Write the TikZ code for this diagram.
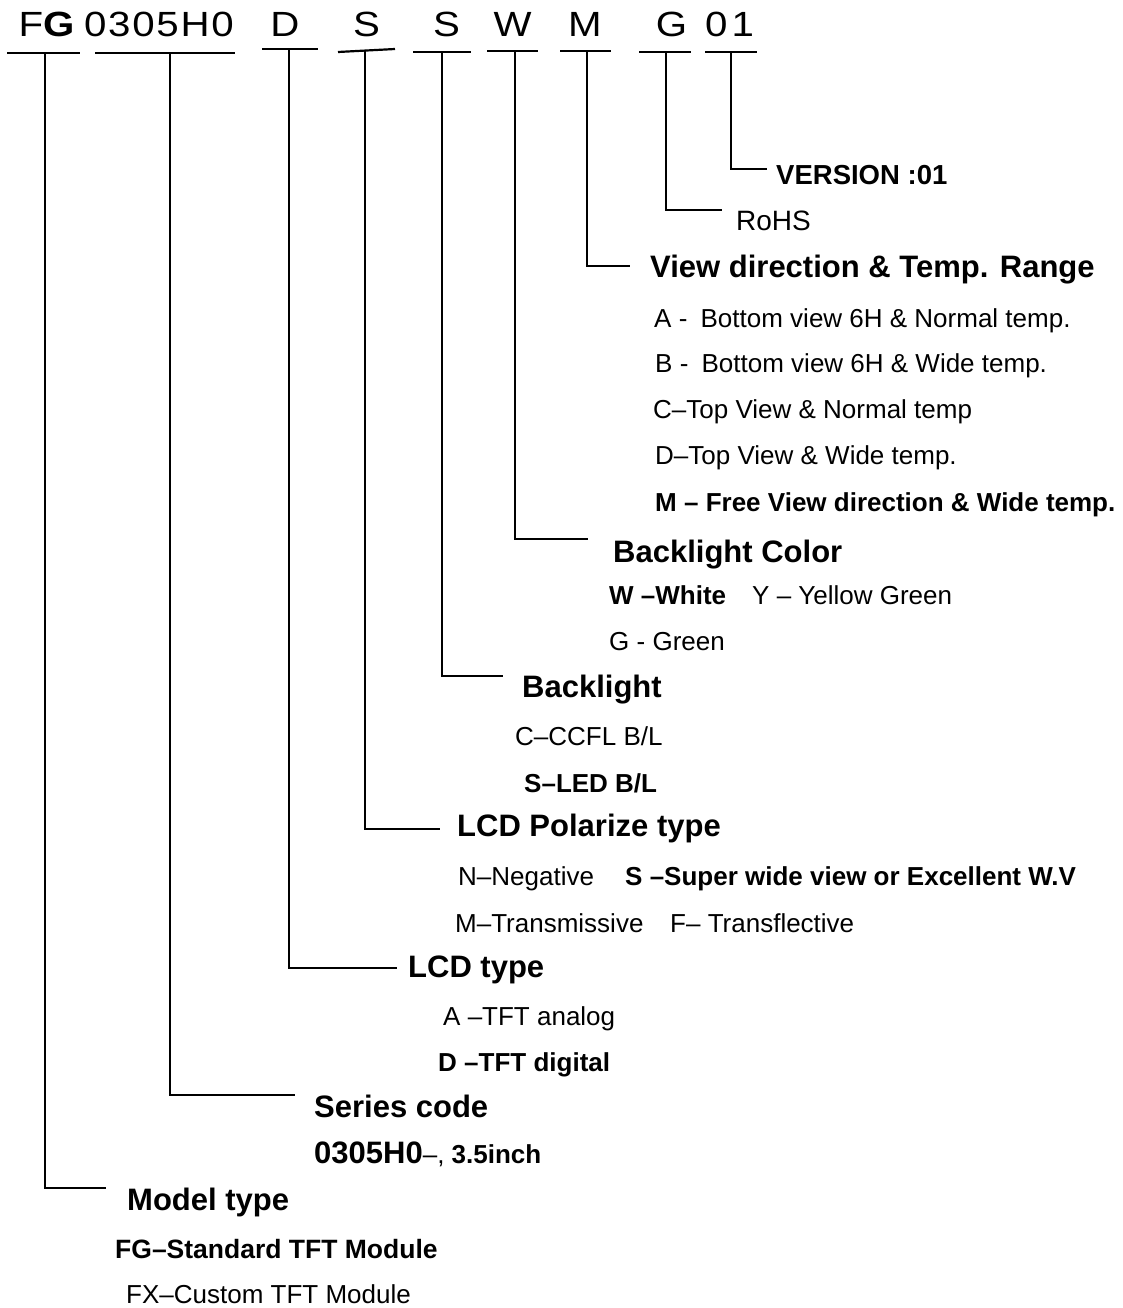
\documentclass[tikz,border=0pt]{standalone}
\usepackage{fontspec}
\setmainfont{Liberation Sans}
\newfontfamily\codefont[FakeStretch=1.15]{Liberation Sans}
\usetikzlibrary{positioning}

\begin{document}
\begin{tikzpicture}[x=1pt, y=-1pt,
    code/.style={anchor=base, inner sep=0pt, font=\codefont\fontsize{35}{40}\selectfont},
    head/.style={anchor=base west, inner sep=0pt, font=\fontsize{31}{37}\selectfont\bfseries},
    item/.style={anchor=base west, inner sep=0pt, font=\fontsize{26}{31}\selectfont},
    bitem/.style={item, font=\fontsize{26}{31}\selectfont\bfseries},
    bar/.style={line width=2.2pt},
    lead/.style={line width=2pt}]
  \useasboundingbox (0,0) rectangle (1123,1308);

  % part number
  \node[code] (cFG) at (46.5,37) {F\textbf{G}};
  \node[code] (cSer) at (159,37) {\addfontfeature{LetterSpace=5}0305H0};
  \node[code] (cD) at (285,37) {D};
  \node[code] (cS1) at (366.5,37) {S};
  \node[code] (cS2) at (446.5,37) {S};
  \node[code] (cW) at (512.5,37) {W};
  \node[code] (cM) at (585,37) {M};
  \node[code] (cG) at (671.5,37) {G};
  \node[code] (c01) at (729.5,37) {\addfontfeature{LetterSpace=12}01};

  % bars under the code
  \foreach \a/\b/\h in {7/80/53, 95/235/53, 262/318/49, 413/471/52,
                        487/538/51, 560/611/51, 639/691/52, 705/757/52}
    \draw[bar] (\a,\h) -- (\b,\h);
  \draw[bar] (338,52) -- (395,49);

  % leaders
  \foreach \n/\x/\t/\y/\e in {Ver/731/52/169/767, Ro/666/52/210/722,
                              Vd/587/51/266/630, Bc/515/51/539/588,
                              Bl/442/52/676/503, Pol/365/50/829/440,
                              Lcd/289/49/968/397, Ser/170/53/1095/295,
                              Mod/45/53/1188/106} {
    \coordinate (t\n) at (\x,\t);
    \coordinate (e\n) at (\e,\y);
    \draw[lead] (t\n) |- (e\n);
  }

  % version, RoHS
  \node[item, font=\fontsize{27.5}{33}\selectfont\bfseries] (ver) at (776,185) {VERSION :01};
  \node[item, font=\fontsize{28}{33}\selectfont] (rohs) at (736,230) {RoHS};

  % view direction
  \node[head] (vd) at (650,277) {View direction \& Temp. Range};
  \node[item] (vdA) at (654,327) {A -\hspace{6pt} Bottom view 6H \& Normal temp.};
  \node[item] (vdB) at (655,372) {B -\hspace{6pt} Bottom view 6H \& Wide temp.};
  \node[item] (vdC) at (653,418) {C–Top View \& Normal temp};
  \node[item] (vdD) at (655,464) {D–Top View \& Wide temp.};
  \node[bitem] (vdM) at (655,511) {M – Free View direction \& Wide temp.};

  % backlight color
  \node[head] (bc) at (613,562) {Backlight Color};
  \node[bitem] (bcW) at (609,604) {W –White};
  \node[item] (bcY) at (752,604) {Y – Yellow Green};
  \node[item] (bcG) at (609,650) {G - Green};

  % backlight
  \node[head] (bl) at (522,697) {Backlight};
  \node[item] (blC) at (515,745) {C–CCFL B/L};
  \node[bitem] (blS) at (524,792) {S–LED B/L};

  % polarizer
  \node[head] (pol) at (457,836) {LCD Polarize type};
  \node[item] (polN) at (458,885) {N–Negative};
  \node[bitem] (polS) at (625,885) {S –Super wide view or Excellent W.V};
  \node[item] (polM) at (455,932) {M–Transmissive};
  \node[item] (polF) at (670,932) {F– Transflective};

  % LCD type
  \node[head] (lcd) at (408,977) {LCD type};
  \node[item] (lcdA) at (443,1025) {A –TFT analog};
  \node[bitem] (lcdD) at (438,1071) {D –TFT digital};

  % series
  \node[head] (ser) at (314,1117) {Series code};
  \node[head] (serC) at (314,1163) {0305H0{\mdseries\fontsize{26}{31}\selectfont–, }{\fontsize{26}{31}\selectfont 3.5inch}};

  % model
  \node[head] (mod) at (127,1210) {Model type};
  \node[bitem, font=\fontsize{26.5}{31}\selectfont\bfseries] (modG) at (115,1258) {FG–Standard TFT Module};
  \node[item] (modX) at (126,1303) {FX–Custom TFT Module};
\end{tikzpicture}
\end{document}
